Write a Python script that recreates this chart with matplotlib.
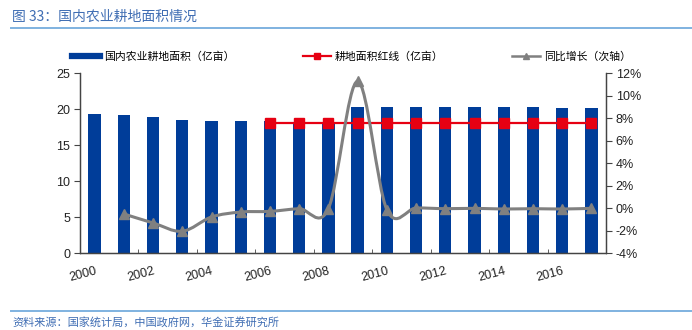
import matplotlib
matplotlib.use("Agg")
import matplotlib.pyplot as plt
from matplotlib.path import Path
from matplotlib.patches import PathPatch
from matplotlib.lines import Line2D
from matplotlib.ticker import FixedLocator, FuncFormatter

plt.rcParams['font.family'] = ['Liberation Sans', 'Noto Sans CJK SC', 'DejaVu Sans']

# 数据
years = list(range(2000, 2018))
area = [19.25, 19.15, 18.9, 18.5, 18.4, 18.3, 18.3, 18.26, 18.26,
        20.3, 20.3, 20.3, 20.27, 20.27, 20.26, 20.25, 20.2, 20.2]
redline = [None] * 6 + [18.0] * 12
growth = [None, -0.53, -1.33, -2.07, -0.8, -0.36, -0.3, -0.06, -0.06,
          11.26, -0.15, 0.0, -0.06, -0.03, -0.09, -0.06, -0.09, -0.03]

blue = '#003D99'
red = '#E60012'
grey = '#808080'
cjk = ['Noto Sans CJK SC', 'DejaVu Sans']

fig = plt.figure(figsize=(6.92, 3.3), dpi=100)
ax = fig.add_axes([80 / 692, 1 - 253 / 330, 526 / 692, 180 / 330])
ax2 = ax.twinx()
ax.set_zorder(1)
ax2.set_zorder(2)
ax2.patch.set_visible(False)

xs = list(range(len(years)))
ax.bar(xs, area, width=0.42, color=blue, zorder=2)

rx = [x for x, v in zip(xs, redline) if v is not None]
ry = [v for v in redline if v is not None]
ax.plot(rx, ry, color=red, lw=1.6, marker='s', ms=7, zorder=3)

# 平滑曲线 (Catmull-Rom -> Bezier)
gx = [x for x, v in zip(xs, growth) if v is not None]
gy = [v for v in growth if v is not None]
verts = [(gx[0], gy[0])]
codes = [Path.MOVETO]
n = len(gx)
for i in range(n - 1):
    p0 = (gx[max(i - 1, 0)], gy[max(i - 1, 0)])
    p1 = (gx[i], gy[i])
    p2 = (gx[i + 1], gy[i + 1])
    p3 = (gx[min(i + 2, n - 1)], gy[min(i + 2, n - 1)])
    c1 = (p1[0] + (p2[0] - p0[0]) / 6, p1[1] + (p2[1] - p0[1]) / 6)
    c2 = (p2[0] - (p3[0] - p1[0]) / 6, p2[1] - (p3[1] - p1[1]) / 6)
    verts += [c1, c2, p2]
    codes += [Path.CURVE4] * 3
ax2.add_patch(PathPatch(Path(verts, codes), fill=False, edgecolor=grey, lw=2.2, zorder=4))
ax2.plot(gx, gy, ls='none', marker='^', ms=7, color=grey, zorder=5)

ax.set_xlim(-0.5, len(years) - 0.5)
ax.set_ylim(0, 25)
ax.set_yticks([0, 5, 10, 15, 20, 25])
ax2.set_ylim(-4, 12)
ax2.set_yticks(range(-4, 13, 2))
ax2.yaxis.set_major_formatter(FuncFormatter(lambda v, p: '%d%%' % v))

ax.set_xticks(xs[::2])
ax.set_xticklabels([str(y) for y in years[::2]], rotation=15, ha='right',
                   rotation_mode='anchor')
ax.xaxis.set_minor_locator(FixedLocator([x + 1.5 for x in xs[::2]][:-1]))
ax.tick_params(axis='x', which='major', length=0, pad=9, labelsize=9, labelcolor='#222222')
ax.tick_params(axis='x', which='minor', direction='in', length=3, color='#444444')
ax.tick_params(axis='y', length=4, color='#444444', labelsize=9, labelcolor='#222222', pad=3)
ax2.tick_params(axis='y', length=4, color='#444444', labelsize=9, labelcolor='#222222', pad=3)

for a in (ax, ax2):
    a.spines['top'].set_visible(False)
    for s in ('left', 'right', 'bottom'):
        a.spines[s].set_color('#444444')
        a.spines[s].set_linewidth(0.9)

# 图例 (每项单独放置)
handles = [Line2D([], [], color=blue, lw=4.5),
           Line2D([], [], color=red, lw=1.6, marker='s', ms=4),
           Line2D([], [], color=grey, lw=1.8, marker='^', ms=4)]
labels = ['国内农业耕地面积（亿亩）', '耕地面积红线（亿亩）', '同比增长（次轴）']
starts = [72, 303, 512]
for h, lab, x0 in zip(handles, labels, starts):
    fig.legend([h], [lab], loc='center left', bbox_to_anchor=(x0 / 692, 1 - 57 / 330),
               frameon=False, borderpad=0, borderaxespad=0, handlelength=2.6,
               handletextpad=0.35, prop={'family': cjk, 'size': 7.8})

# 标题与来源
title_color = '#3F6DB3'
fig.text(12 / 692, 1 - 17 / 330, '图 33：国内农业耕地面积情况', color=title_color,
         fontsize=10, family=cjk, va='center', ha='left')
fig.add_artist(Line2D([11 / 692, 1], [1 - 28 / 330] * 2, color='#7FB2E0', lw=1.4))
fig.add_artist(Line2D([11 / 692, 1], [1 - 311 / 330] * 2, color='#7FB2E0', lw=1.4))
fig.text(12 / 692, 1 - 323 / 330, '资料来源：国家统计局，中国政府网，华金证券研究所',
         color=title_color, fontsize=8, family=cjk, va='center', ha='left')

fig.savefig('out.png', dpi=100)
